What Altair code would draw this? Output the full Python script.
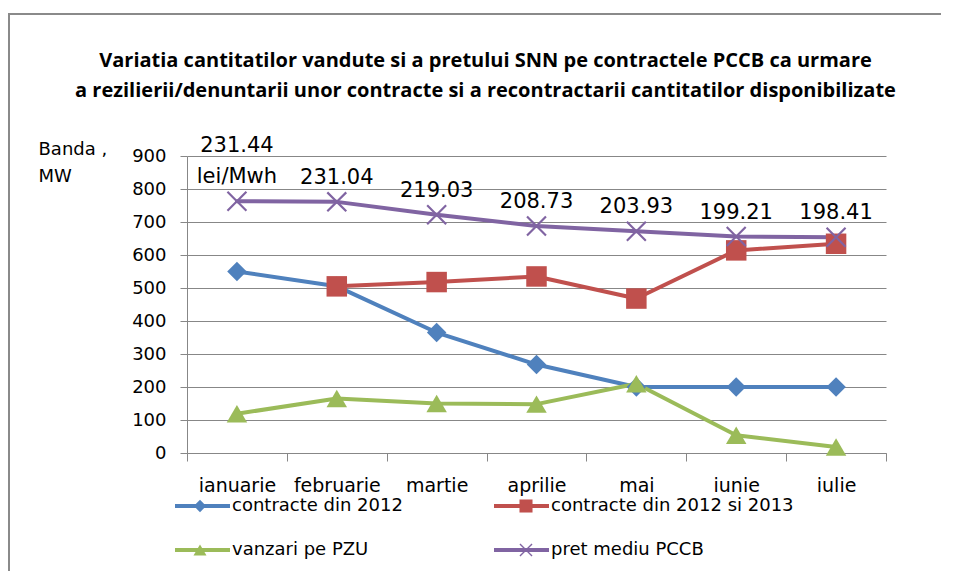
import altair as alt
import pandas as pd

# ---- data ----
luni = ["ianuarie", "februarie", "martie", "aprilie", "mai", "iunie", "iulie"]
serii = ["contracte din 2012", "contracte din 2012 si 2013", "vanzari pe PZU", "pret mediu  PCCB"]
culori = ["#4F81BD", "#C0504D", "#9BBB59", "#8064A2"]

contracte_2012 = [550, 505, 365, 268, 200, 200, 200]
contracte_2012_2013 = [None, 505, 518, 535, 468, 614, 634]
vanzari_pzu = [119, 165, 150, 148, 210, 54, 18]
pret_mediu_banda = [763, 761, 722, 688, 672, 656, 654]
pret_mediu_lei = ["231.44", "231.04", "219.03", "208.73", "203.93", "199.21", "198.41"]
unitate_pret = "lei/Mwh"

titlu = [
    "Variatia cantitatilor vandute si a pretului SNN pe contractele PCCB ca urmare",
    "a rezilierii/denuntarii  unor contracte si a recontractarii cantitatilor disponibilizate",
]

# ---- tables ----
rows = []
for nume, vals in zip(serii, [contracte_2012, contracte_2012_2013, vanzari_pzu, pret_mediu_banda]):
    for luna, v in zip(luni, vals):
        if v is not None:
            rows.append({"luna": luna, "serie": nume, "serie_b": nume, "valoare": v})
df = pd.DataFrame(rows)

etichete = [p + ("\n" + unitate_pret if i == 0 else "") for i, p in enumerate(pret_mediu_lei)]
df_lab = pd.DataFrame({"luna": luni, "valoare": pret_mediu_banda, "eticheta": etichete,
                       "prima": [i == 0 for i in range(len(luni))]})

# marker shapes (custom paths in -1..1 box)
d = 0.15
x_path = (f"M0,{-d}L{1-d},-1L1,{-1+d}L{d},0L1,{1-d}L{1-d},1L0,{d}"
          f"L{-1+d},1L-1,{1-d}L{-d},0L-1,{-1+d}L{-1+d},-1Z")
forme = [
    "M-0.95,0L0,-0.95L0.95,0L0,0.95Z",
    "M-1,-1L1,-1L1,1L-1,1Z",
    "M0,-0.85L1,0.85L-1,0.85Z",
    x_path,
]

FONT = "DejaVu Sans"
GRID = "#878787"

x_enc = alt.X(
    "luna:O",
    sort=luni,
    scale=alt.Scale(type="band", paddingInner=0, paddingOuter=0),
    axis=alt.Axis(
        title=None, labelAngle=0, tickBand="extent", tickSize=8, tickColor=GRID,
        domainColor=GRID, grid=False, labelFont=FONT, labelFontSize=19,
        labelColor="#000", labelPadding=15,
    ),
)
y_enc = alt.Y(
    "valoare:Q",
    scale=alt.Scale(domain=[0, 900]),
    axis=alt.Axis(
        values=list(range(0, 901, 100)), title=["Banda ,", "MW"], titleAngle=0,
        titleAlign="left", titleBaseline="top", titleX=-149, titleY=-16,
        titleFont=FONT, titleFontSize=18, titleFontWeight="normal", titleColor="#000",
        titleLineHeight=27, tickSize=7, tickColor=GRID, domainColor=GRID,
        gridColor=GRID, labelFont=FONT, labelFontSize=18, labelColor="#000",
        labelPadding=14,
    ),
)

leg_common = dict(
    orient="none", legendX=-14, legendY=340, columns=2, direction="horizontal",
    title=None, padding=0, labelFont=FONT, labelFontSize=18, labelColor="#000",
    labelLimit=500, rowPadding=24, clipHeight=20,
)

base = alt.Chart(df)

# line legend (stroke) – domain from the field with a custom sort
linii = base.mark_line(strokeWidth=4, strokeCap="round", strokeJoin="round").encode(
    x=x_enc,
    y=y_enc,
    stroke=alt.Stroke(
        "serie:N",
        sort=serii,
        scale=alt.Scale(range=culori),
        legend=alt.Legend(symbolType="stroke", symbolSize=3025, symbolStrokeWidth=4,
                          labelOffset=0, columnPadding=89, **leg_common),
    ),
    detail="serie:N",
)

# marker legend (fill + shape merged, same explicit domain); its labels are blank
leg2 = alt.Legend(symbolSize=170, symbolOffset=18, labelOffset=26, symbolStrokeWidth=0,
                  labelExpr="''", columnPadding=264, **leg_common)
puncte = base.mark_point(filled=True, size=420, opacity=1).encode(
    x=x_enc,
    y=y_enc,
    fill=alt.Fill("serie_b:N", scale=alt.Scale(domain=serii, range=culori), legend=leg2),
    shape=alt.Shape("serie_b:N", scale=alt.Scale(domain=serii, range=forme), legend=leg2),
)

text_style = dict(font=FONT, fontSize=21, baseline="bottom", align="center",
                  lineHeight=31, lineBreak="\n", color="#000")
texte = alt.Chart(df_lab).mark_text(dy=-14, **text_style).encode(
    x=x_enc, y=y_enc, text="eticheta:N"
).transform_filter("!datum.prima")
texte_prima = alt.Chart(df_lab).mark_text(dy=-45, **text_style).encode(
    x=x_enc, y=y_enc, text="eticheta:N"
).transform_filter("datum.prima")

rama = alt.Chart(pd.DataFrame({"k": [0]})).mark_rule(color="#8a8a8a", strokeWidth=2)
rama_sus = rama.encode(x=alt.value(-179), x2=alt.value(760), y=alt.value(-142))
rama_st = rama.encode(x=alt.value(-178), y=alt.value(-142), y2=alt.value(420))

chart = alt.layer(rama_sus, rama_st, linii, puncte, texte, texte_prima).properties(
    width=699,
    height=297,
    padding={"left": 179, "top": 148, "right": 55, "bottom": 118},
    autosize=alt.AutoSizeParams(type="none"),
    title=alt.TitleParams(
        text=titlu, anchor="middle", frame="group", dx=-51, offset=-88,
        font="Open Sans", fontSize=20, fontWeight="bold", lineHeight=30, color="#000",
    ),
).configure_view(stroke=None)

chart.save("out.html", embed_options={"renderer": "svg", "actions": False})
